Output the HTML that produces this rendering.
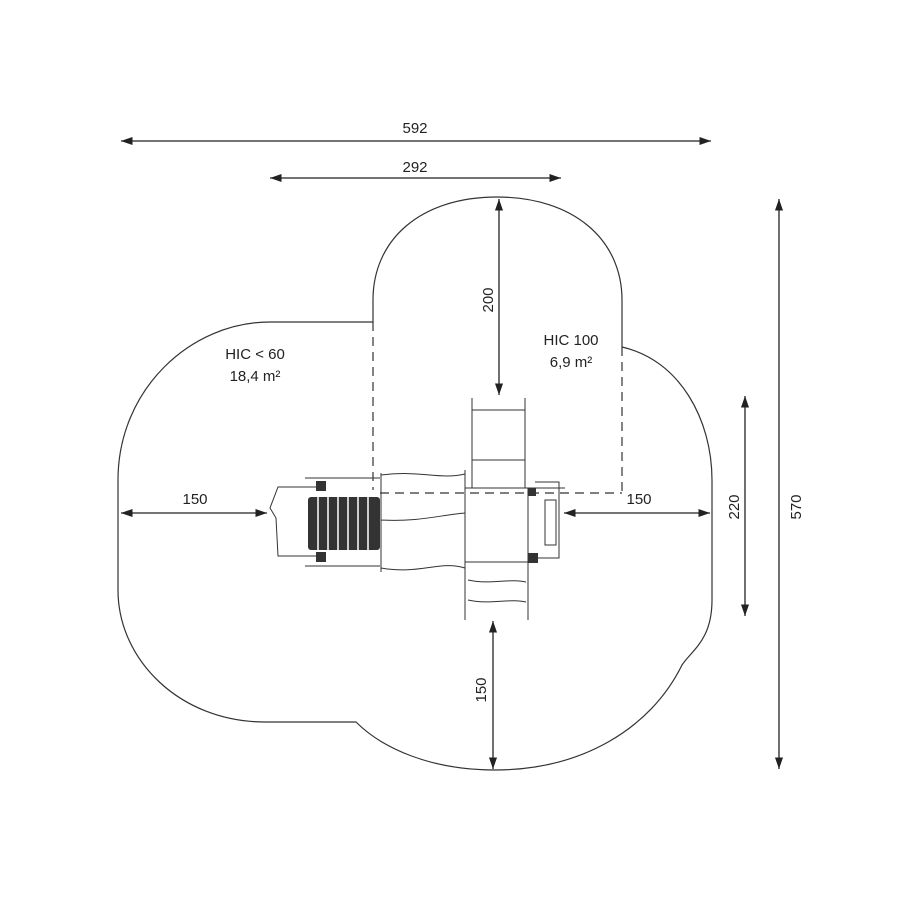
<!DOCTYPE html>
<html><head><style>body{margin:0;background:#fff}svg{display:block}text{font-family:"Liberation Sans",sans-serif;font-size:15px;fill:#222}</style></head><body>
<svg width="900" height="900" viewBox="0 0 900 900">
<defs><marker id="a" viewBox="0 0 10 10" refX="10" refY="5" markerWidth="9" markerHeight="9" orient="auto-start-reverse"><path d="M0,1.5 L10,5 L0,8.5 Z" fill="#222"/></marker></defs>
<g fill="none" stroke="#333" stroke-width="1.2">
<path d="M373,322 L373,300 C373,240 420,197 497,197 C574,197 622,240 622,300 L622,347 C680,360 712,420 712,480 L712,600 C712,640 692,650 682,665 C650,730 580,770 495,770 C430,770 382,748 356,722 L265,722 C180,722 118,660 118,590 L118,480 C118,390 190,322 270,322 Z"/>
<path d="M373,322V490 M622,347V493 M380,493H622" stroke-dasharray="9,6"/>
</g>
<g stroke="#222" stroke-width="1.3" fill="none">
<line x1="121" y1="141" x2="711" y2="141" marker-start="url(#a)" marker-end="url(#a)"/>
<line x1="270" y1="178" x2="561" y2="178" marker-start="url(#a)" marker-end="url(#a)"/>
<line x1="499" y1="199" x2="499" y2="395" marker-start="url(#a)" marker-end="url(#a)"/>
<line x1="121" y1="513" x2="267" y2="513" marker-start="url(#a)" marker-end="url(#a)"/>
<line x1="564" y1="513" x2="710" y2="513" marker-start="url(#a)" marker-end="url(#a)"/>
<line x1="745" y1="396" x2="745" y2="616" marker-start="url(#a)" marker-end="url(#a)"/>
<line x1="779" y1="199" x2="779" y2="769" marker-start="url(#a)" marker-end="url(#a)"/>
<line x1="493" y1="621" x2="493" y2="769" marker-start="url(#a)" marker-end="url(#a)"/>
</g>
<text x="415" y="133" text-anchor="middle">592</text>
<text x="415" y="172" text-anchor="middle">292</text>
<text x="195" y="504" text-anchor="middle">150</text>
<text x="639" y="504" text-anchor="middle">150</text>
<text transform="translate(493,300) rotate(-90)" text-anchor="middle">200</text>
<text transform="translate(739,507) rotate(-90)" text-anchor="middle">220</text>
<text transform="translate(801,507) rotate(-90)" text-anchor="middle">570</text>
<text transform="translate(486,690) rotate(-90)" text-anchor="middle">150</text>
<text x="255" y="359" text-anchor="middle">HIC &lt; 60</text>
<text x="255" y="381" text-anchor="middle">18,4 m²</text>
<text x="571" y="345" text-anchor="middle">HIC 100</text>
<text x="571" y="367" text-anchor="middle">6,9 m²</text>
<g fill="none" stroke="#333" stroke-width="1">
<path d="M318,487 L278,487 L270,508 L276,518 L278,556 L318,556"/>
<path d="M305,478H380 M305,566H380"/>
<path d="M381,473 L381,572 M381,475 C420,470 440,480 465,474 M381,568 C420,575 440,560 465,568 M381,520 C420,522 440,515 465,513"/>
<path d="M465,470V620 M528,488V620 M465,488H565 M465,562H528"/>
<path d="M472,398V488 M525,398V488 M472,410H525 M472,460H525"/>
<path d="M468,580 C490,585 510,578 526,582 M468,600 C490,605 510,598 526,602"/>
<path d="M535,482 L559,482 L559,558 L535,558 M545,500H556V545H545Z"/>
</g>
<g fill="#333">
<rect x="308" y="497" width="72" height="53" rx="3"/>
<rect x="316" y="481" width="10" height="10"/><rect x="316" y="552" width="10" height="10"/>
<rect x="528" y="553" width="10" height="10"/><rect x="528" y="488" width="8" height="8"/>
</g>
<g stroke="#fff" stroke-width="1.5">
<path d="M318,497V550 M328,497V550 M338,497V550 M348,497V550 M358,497V550 M368,497V550"/>
</g>
</svg>
</body></html>
